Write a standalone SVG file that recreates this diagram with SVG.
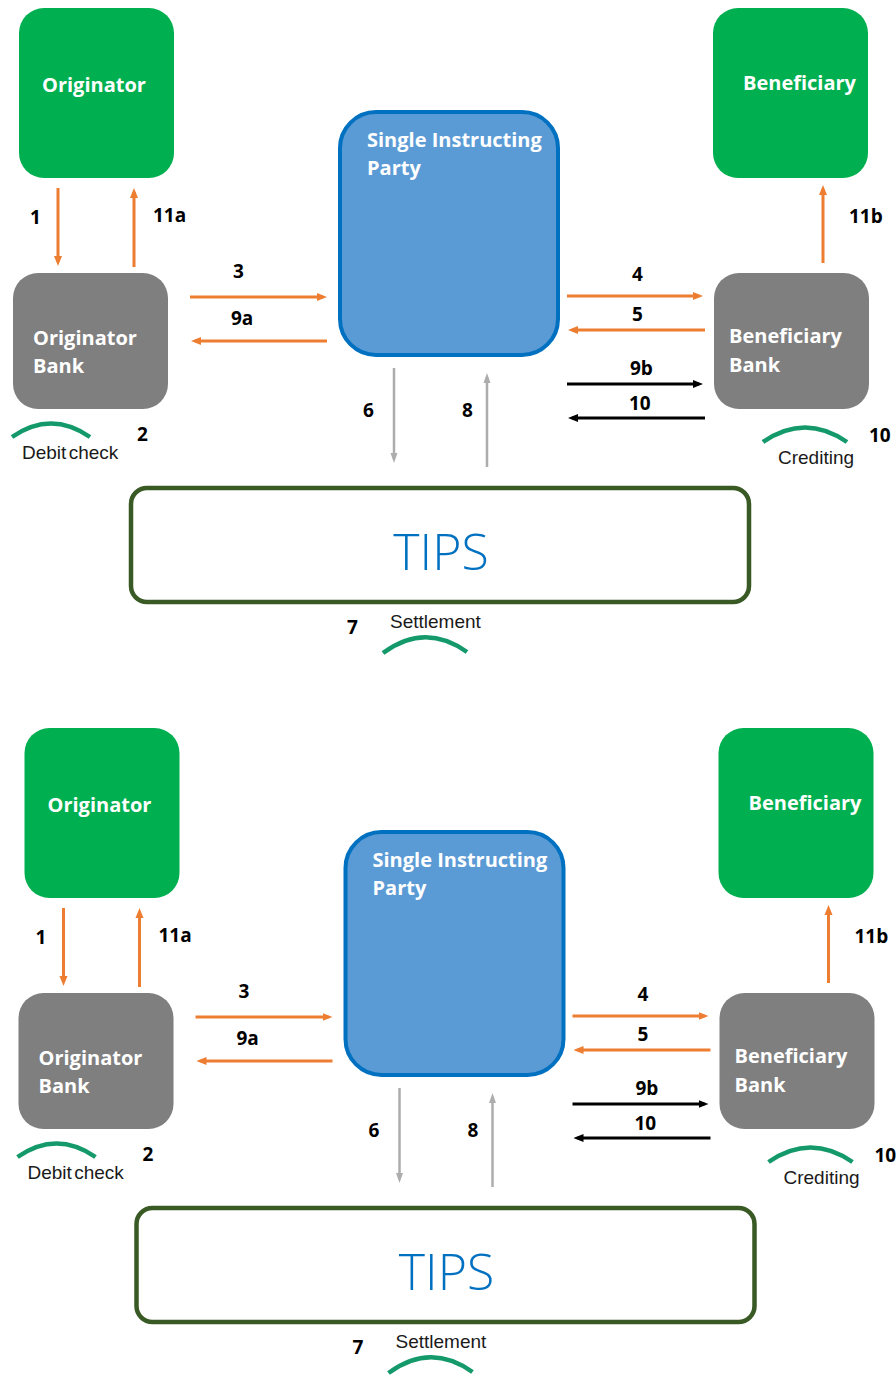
<svg xmlns="http://www.w3.org/2000/svg" width="896" height="1376" viewBox="0 0 896 1376">
<style>
  .green { fill: #00B050; }
  .gray { fill: #7F7F7F; }
  .sip { fill: #5B9BD5; stroke: #0070C0; stroke-width: 4; }
  .tips { fill: #FFFFFF; stroke: #3A5A25; stroke-width: 4.5; }
  .ntext { font-family: "Open Sans", "Noto Sans", sans-serif; font-weight: 700; font-size: 20px; fill: #FFFFFF; }
  .num { font-family: "Open Sans", "Noto Sans", sans-serif; font-weight: 700; font-size: 19px; fill: #000000; }
  .note { font-family: "Liberation Sans", Arial, sans-serif; font-size: 19px; fill: #1A1A1A; }
  .tipstext { font-family: "Open Sans", "Noto Sans", sans-serif; font-weight: 300; font-size: 50px; fill: #0070C0; }
  .or { stroke: #ED7D31; stroke-width: 3; fill: none; }
  .gr { stroke: #ADADAD; stroke-width: 2.5; fill: none; }
  .bk { stroke: #000000; stroke-width: 3; fill: none; }
  .arc { stroke: #14996B; stroke-width: 4.5; fill: none; }
</style>
<defs>
  <marker id="mOr" viewBox="0 0 10 10" markerWidth="10" markerHeight="10" refX="6" refY="5" markerUnits="userSpaceOnUse" orient="auto">
    <path d="M0,1 L10,5 L0,9 z" fill="#ED7D31"/>
  </marker>
  <marker id="mGr" viewBox="0 0 10 10" markerWidth="10" markerHeight="10" refX="6" refY="5" markerUnits="userSpaceOnUse" orient="auto">
    <path d="M0,1.5 L10,5 L0,8.5 z" fill="#ADADAD"/>
  </marker>
  <marker id="mBk" viewBox="0 0 10 10" markerWidth="10" markerHeight="10" refX="6" refY="5" markerUnits="userSpaceOnUse" orient="auto">
    <path d="M0,1 L10,5 L0,9 z" fill="#000000"/>
  </marker>
</defs>
<rect x="0" y="0" width="896" height="1376" fill="#FFFFFF"/>

<!-- ===== Top diagram ===== -->
<g id="top">
  <g id="a-originator">
    <rect class="green" x="19" y="8" width="155" height="170" rx="25"/>
    <text class="ntext" x="42" y="92">Originator</text>
  </g>
  <g id="a-originator-bank">
    <rect class="gray" x="13" y="273" width="155" height="136" rx="25"/>
    <text class="ntext" x="33" y="345">Originator</text>
    <text class="ntext" x="33" y="373">Bank</text>
  </g>
  <g id="a-sip">
    <rect class="sip" x="340" y="112" width="218" height="243" rx="36"/>
    <text class="ntext" x="367" y="147">Single Instructing</text>
    <text class="ntext" x="367" y="175">Party</text>
  </g>
  <g id="a-beneficiary">
    <rect class="green" x="713" y="8" width="155" height="170" rx="25"/>
    <text class="ntext" x="743" y="90">Beneficiary</text>
  </g>
  <g id="a-beneficiary-bank">
    <rect class="gray" x="714" y="273" width="155" height="136" rx="25"/>
    <text class="ntext" x="729" y="343">Beneficiary</text>
    <text class="ntext" x="729" y="372">Bank</text>
  </g>
  <g id="a-tips">
    <rect class="tips" x="131" y="488" width="618" height="114" rx="16"/>
    <text class="tipstext" x="441" y="570" text-anchor="middle">TIPS</text>
  </g>
  <g id="a-connectors">
    <line class="or" x1="58" y1="188" x2="58" y2="262" marker-end="url(#mOr)"/>
    <line class="or" x1="134" y1="267" x2="134" y2="192" marker-end="url(#mOr)"/>
    <line class="or" x1="190" y1="297" x2="323" y2="297" marker-end="url(#mOr)"/>
    <line class="or" x1="327" y1="341" x2="195" y2="341" marker-end="url(#mOr)"/>
    <line class="or" x1="567" y1="296" x2="699" y2="296" marker-end="url(#mOr)"/>
    <line class="or" x1="705" y1="330" x2="572" y2="330" marker-end="url(#mOr)"/>
    <line class="bk" x1="567" y1="384" x2="699" y2="384" marker-end="url(#mBk)"/>
    <line class="bk" x1="705" y1="418" x2="572" y2="418" marker-end="url(#mBk)"/>
    <line class="or" x1="823" y1="263" x2="823" y2="189" marker-end="url(#mOr)"/>
    <line class="gr" x1="394" y1="368" x2="394" y2="459" marker-end="url(#mGr)"/>
    <line class="gr" x1="487" y1="467" x2="487" y2="377" marker-end="url(#mGr)"/>
  </g>
  <g id="a-labels">
    <text class="num" x="30" y="224">1</text>
    <text class="num" x="153" y="222">11a</text>
    <text class="num" x="233" y="278">3</text>
    <text class="num" x="231" y="325">9a</text>
    <text class="num" x="632" y="281">4</text>
    <text class="num" x="632" y="321">5</text>
    <text class="num" x="630" y="375">9b</text>
    <text class="num" x="629" y="410">10</text>
    <text class="num" x="849" y="223">11b</text>
    <text class="num" x="363" y="417">6</text>
    <text class="num" x="462" y="417">8</text>
    <text class="num" x="137" y="441">2</text>
    <text class="num" x="869" y="442">10</text>
    <text class="num" x="347" y="634">7</text>
  </g>
  <g id="a-notes">
    <path class="arc" d="M12,437 Q51,410 90,437"/>
    <text class="note" x="22" y="459" word-spacing="-3">Debit check</text>
    <path class="arc" d="M763,442 Q805,413 847,442"/>
    <text class="note" x="778" y="464" font-size="20">Crediting</text>
    <path class="arc" d="M383,653 Q425,622 467,652"/>
    <text class="note" x="390" y="628" font-size="20">Settlement</text>
  </g>
</g>

<!-- ===== Bottom diagram ===== -->
<g id="bottom" transform="translate(5.5,720)">
  <g id="b-originator">
    <rect class="green" x="19" y="8" width="155" height="170" rx="25"/>
    <text class="ntext" x="42" y="92">Originator</text>
  </g>
  <g id="b-originator-bank">
    <rect class="gray" x="13" y="273" width="155" height="136" rx="25"/>
    <text class="ntext" x="33" y="345">Originator</text>
    <text class="ntext" x="33" y="373">Bank</text>
  </g>
  <g id="b-sip">
    <rect class="sip" x="340" y="112" width="218" height="243" rx="36"/>
    <text class="ntext" x="367" y="147">Single Instructing</text>
    <text class="ntext" x="367" y="175">Party</text>
  </g>
  <g id="b-beneficiary">
    <rect class="green" x="713" y="8" width="155" height="170" rx="25"/>
    <text class="ntext" x="743" y="90">Beneficiary</text>
  </g>
  <g id="b-beneficiary-bank">
    <rect class="gray" x="714" y="273" width="155" height="136" rx="25"/>
    <text class="ntext" x="729" y="343">Beneficiary</text>
    <text class="ntext" x="729" y="372">Bank</text>
  </g>
  <g id="b-tips">
    <rect class="tips" x="131" y="488" width="618" height="114" rx="16"/>
    <text class="tipstext" x="441" y="570" text-anchor="middle">TIPS</text>
  </g>
  <g id="b-connectors">
    <line class="or" x1="58" y1="188" x2="58" y2="262" marker-end="url(#mOr)"/>
    <line class="or" x1="134" y1="267" x2="134" y2="192" marker-end="url(#mOr)"/>
    <line class="or" x1="190" y1="297" x2="323" y2="297" marker-end="url(#mOr)"/>
    <line class="or" x1="327" y1="341" x2="195" y2="341" marker-end="url(#mOr)"/>
    <line class="or" x1="567" y1="296" x2="699" y2="296" marker-end="url(#mOr)"/>
    <line class="or" x1="705" y1="330" x2="572" y2="330" marker-end="url(#mOr)"/>
    <line class="bk" x1="567" y1="384" x2="699" y2="384" marker-end="url(#mBk)"/>
    <line class="bk" x1="705" y1="418" x2="572" y2="418" marker-end="url(#mBk)"/>
    <line class="or" x1="823" y1="263" x2="823" y2="189" marker-end="url(#mOr)"/>
    <line class="gr" x1="394" y1="368" x2="394" y2="459" marker-end="url(#mGr)"/>
    <line class="gr" x1="487" y1="467" x2="487" y2="377" marker-end="url(#mGr)"/>
  </g>
  <g id="b-labels">
    <text class="num" x="30" y="224">1</text>
    <text class="num" x="153" y="222">11a</text>
    <text class="num" x="233" y="278">3</text>
    <text class="num" x="231" y="325">9a</text>
    <text class="num" x="632" y="281">4</text>
    <text class="num" x="632" y="321">5</text>
    <text class="num" x="630" y="375">9b</text>
    <text class="num" x="629" y="410">10</text>
    <text class="num" x="849" y="223">11b</text>
    <text class="num" x="363" y="417">6</text>
    <text class="num" x="462" y="417">8</text>
    <text class="num" x="137" y="441">2</text>
    <text class="num" x="869" y="442">10</text>
    <text class="num" x="347" y="634">7</text>
  </g>
  <g id="b-notes">
    <path class="arc" d="M12,437 Q51,410 90,437"/>
    <text class="note" x="22" y="459" word-spacing="-3">Debit check</text>
    <path class="arc" d="M763,442 Q805,413 847,442"/>
    <text class="note" x="778" y="464" font-size="20">Crediting</text>
    <path class="arc" d="M383,653 Q425,622 467,652"/>
    <text class="note" x="390" y="628" font-size="20">Settlement</text>
  </g>
</g>
</svg>
